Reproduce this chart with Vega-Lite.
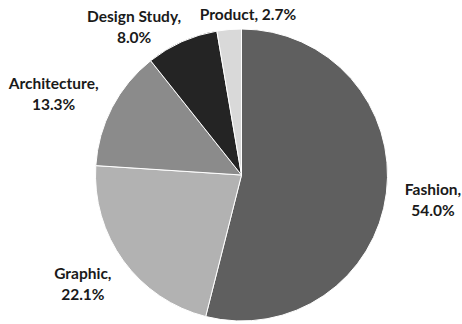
{
  "$schema": "https://vega.github.io/schema/vega-lite/v6.json",
  "width": 441,
  "height": 298,
  "autosize": "none",
  "padding": {"left": 21, "top": 26, "right": 0, "bottom": 0},
  "background": "white",
  "config": {"view": {"stroke": null}},
  "data": {
    "values": [
      {"category": "Fashion", "pct": 54.0, "idx": 1, "label": "Fashion,\n54.0%"},
      {"category": "Graphic", "pct": 22.1, "idx": 2, "label": "Graphic,\n22.1%"},
      {"category": "Architecture", "pct": 13.3, "idx": 3, "label": "Architecture,\n13.3%"},
      {"category": "Design Study", "pct": 8.0, "idx": 4, "label": "Design Study,\n8.0%"},
      {"category": "Product", "pct": 2.7, "idx": 5, "label": "Product, 2.7%"}
    ]
  },
  "transform": [
    {"stack": "pct", "groupby": [], "sort": [{"field": "idx", "order": "ascending"}], "as": ["t0", "t1"]},
    {"calculate": "(datum.t0 + datum.t1) / 2", "as": "tmid"}
  ],
  "layer": [
    {
      "mark": {"type": "arc", "outerRadius": 146, "stroke": "white", "strokeWidth": 1},
      "encoding": {
        "theta": {"field": "t0", "type": "quantitative", "stack": null, "scale": {"domain": [0, 100.1]}},
        "theta2": {"field": "t1"},
        "color": {
          "field": "category",
          "type": "nominal",
          "scale": {
            "domain": ["Fashion", "Graphic", "Architecture", "Design Study", "Product"],
            "range": ["#5f5f5f", "#b2b2b2", "#8b8b8b", "#242424", "#d9d9d9"]
          },
          "legend": null
        }
      }
    },
    {
      "transform": [{"filter": "datum.category === 'Fashion'"}],
      "mark": {"type": "text", "radius": 192, "dx": 1, "dy": -9, "font": "Lato", "fontWeight": "bold", "fontSize": 15.5, "lineHeight": 21, "lineBreak": "\n", "align": "center", "baseline": "middle", "color": "#1a1a1a"},
      "encoding": {
        "theta": {"field": "tmid", "type": "quantitative", "stack": null, "scale": {"domain": [0, 100.1]}},
        "text": {"field": "label"}
      }
    },
    {
      "transform": [{"filter": "datum.category === 'Graphic'"}],
      "mark": {"type": "text", "radius": 195, "dx": -1, "dy": -16, "font": "Lato", "fontWeight": "bold", "fontSize": 15.5, "lineHeight": 21, "lineBreak": "\n", "align": "center", "baseline": "middle", "color": "#1a1a1a"},
      "encoding": {
        "theta": {"field": "tmid", "type": "quantitative", "stack": null, "scale": {"domain": [0, 100.1]}},
        "text": {"field": "label"}
      }
    },
    {
      "transform": [{"filter": "datum.category === 'Architecture'"}],
      "mark": {"type": "text", "radius": 203, "dx": -8, "dy": 3, "font": "Lato", "fontWeight": "bold", "fontSize": 15.5, "lineHeight": 21, "lineBreak": "\n", "align": "center", "baseline": "middle", "color": "#1a1a1a"},
      "encoding": {
        "theta": {"field": "tmid", "type": "quantitative", "stack": null, "scale": {"domain": [0, 100.1]}},
        "text": {"field": "label"}
      }
    },
    {
      "transform": [{"filter": "datum.category === 'Design Study'"}],
      "mark": {"type": "text", "radius": 170, "dx": -38, "dy": -3, "font": "Lato", "fontWeight": "bold", "fontSize": 15.5, "lineHeight": 21, "lineBreak": "\n", "align": "center", "baseline": "middle", "color": "#1a1a1a"},
      "encoding": {
        "theta": {"field": "tmid", "type": "quantitative", "stack": null, "scale": {"domain": [0, 100.1]}},
        "text": {"field": "label"}
      }
    },
    {
      "transform": [{"filter": "datum.category === 'Product'"}],
      "mark": {"type": "text", "radius": 160, "dx": 20, "dy": -1, "font": "Lato", "fontWeight": "bold", "fontSize": 15.5, "lineHeight": 21, "lineBreak": "\n", "align": "center", "baseline": "middle", "color": "#1a1a1a"},
      "encoding": {
        "theta": {"field": "tmid", "type": "quantitative", "stack": null, "scale": {"domain": [0, 100.1]}},
        "text": {"field": "label"}
      }
    }
  ]
}
